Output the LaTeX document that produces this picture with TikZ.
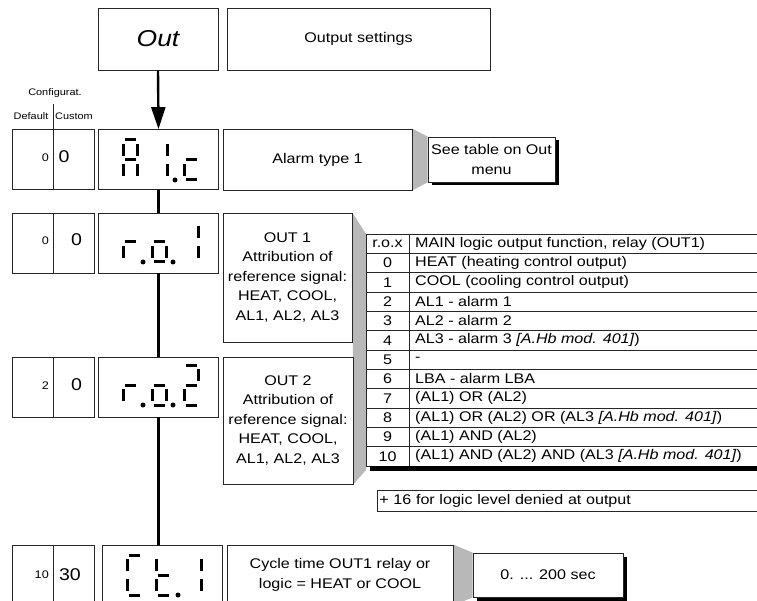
\documentclass[tikz,border=0pt]{standalone}
\usepackage{fontspec}
\setmainfont{Liberation Sans}[FakeStretch=1.15]
\usetikzlibrary{arrows.meta,shadows,backgrounds}

\tikzset{
  box/.style={draw=black!85, line width=0.8pt, fill=white, inner sep=2pt, align=center,
    font=\fontsize{14}{19.5}\selectfont},
  cfgbox/.style={box, minimum width=82pt, minimum height=60pt},
  dispbox/.style={box, minimum width=120pt, minimum height=60pt},
  callout/.style={box, drop shadow={shadow xshift=3.5pt, shadow yshift=-3.5pt, fill=black, opacity=1}},
  wedge/.style={fill=black!28},
  mainline/.style={line width=2.4pt},
  thinline/.style={line width=0.8pt, draw=black!85},
  segline/.style={line width=3pt},
  small/.style={font=\fontsize{9.5}{11}\selectfont, inner sep=1pt},
  dflt/.style={font=\fontsize{11}{13}\selectfont, inner sep=1pt},
  cust/.style={font=\fontsize{17}{20}\selectfont, inner sep=1pt},
  tbl/.style={font=\fontsize{14}{16}\selectfont, inner sep=2pt},
}

% one digit of the display: centre x, centre y, list of segments a-g
\newcommand{\segdigit}[3]{%
  \begin{scope}[shift={(#1,#2)}]
    \coordinate (sa1) at (-5.5,-20); \coordinate (sa2) at (5.5,-20);
    \coordinate (sb1) at (7,-16);    \coordinate (sb2) at (7,-4);
    \coordinate (sc1) at (7,4);      \coordinate (sc2) at (7,16);
    \coordinate (sd1) at (-5.5,20);  \coordinate (sd2) at (5.5,20);
    \coordinate (se1) at (-7,4);     \coordinate (se2) at (-7,16);
    \coordinate (sf1) at (-7,-16);   \coordinate (sf2) at (-7,-4);
    \coordinate (sg1) at (-5.5,0);   \coordinate (sg2) at (5.5,0);
    \foreach \s in {#3} {\draw[segline] (s\s1) -- (s\s2);}
  \end{scope}}

\begin{document}
\begin{tikzpicture}[x=1pt,y=-1pt]
  \useasboundingbox (0,0) rectangle (757,601);

  % menu header
  \node[box, minimum width=120pt, minimum height=62pt, font=\fontsize{23}{26}\selectfont\itshape] (out) at (158,39) {Out};
  \node[box, minimum width=263pt, minimum height=62pt] (outset) at (358.5,39) {Output settings};

  \node[small] (cfg) at (55,93) {Configurat.};
  \node[small] (dft) at (31,116) {Default};
  \node[small] (cst) at (74,116) {Custom};
  \coordinate (sep) at (53,104);

  % rows
  \node[cfgbox] (cfg1) at (53,159.5) {};
  \node[dispbox] (disp1) at (158.5,159.5) {};
  \node[box, minimum width=189pt, minimum height=61pt] (desc1) at (317.5,159.5) {Alarm type 1};
  \node[callout, minimum width=127pt, minimum height=45pt] (see1) at (491.5,159.5) {See table on Out\\menu};

  \node[cfgbox] (cfg2) at (53,243) {};
  \node[dispbox] (disp2) at (158.5,243) {};
  \node[box, minimum width=129pt, minimum height=129pt] (desc2) at (287.5,277.5)
    {OUT 1\\Attribution of\\reference signal:\\HEAT, COOL,\\AL1, AL2, AL3};

  \node[cfgbox] (cfg3) at (53,387) {};
  \node[dispbox] (disp3) at (158.5,387) {};
  \node[box, minimum width=130pt, minimum height=127pt] (desc3) at (288,420.5)
    {OUT 2\\Attribution of\\reference signal:\\HEAT, COOL,\\AL1, AL2, AL3};

  \node[cfgbox] (cfg4) at (53,575) {};
  \node[dispbox] (disp4) at (162,575) {};
  \node[box, minimum width=226pt, minimum height=60pt] (desc4) at (340,575)
    {Cycle time OUT1 relay or\\logic = HEAT or COOL};
  \node[callout, minimum width=150pt, minimum height=44pt] (cyc) at (548,575) {0. ... 200 sec};

  \node[box, anchor=west, text width=380pt, minimum height=21pt, align=left] (plus) at (377,500.5)
    {+ 16 for logic level denied at output};

  % config values
  \draw[thinline] (sep) -- (cfg1.north);
  \foreach \r in {1,2,3,4} {\draw[thinline] (cfg\r.north) -- (cfg\r.south);}
  \node[dflt, anchor=east] (d1) at (50,158) {0};
  \node[cust] (c1) at (64,157) {0};
  \node[dflt, anchor=east] (d2) at (50,241) {0};
  \node[cust] (c2) at (76.5,240) {0};
  \node[dflt, anchor=east] (d3) at (50,386) {2};
  \node[cust] (c3) at (76.5,385) {0};
  \node[dflt, anchor=east] (d4) at (50,575) {10};
  \node[cust] (c4) at (70,575) {30};

  % main flow line
  \draw[mainline, -{Triangle[length=22pt,width=14pt]}] (out.south) -- (disp1.north);
  \draw[mainline] (disp1.south) -- (disp2.north);
  \draw[mainline] (disp2.south) -- (disp3.north);
  \draw[mainline] (disp3.south) -- (disp3.south |- disp4.north);

  % displays
  \segdigit{130}{160}{a,b,c,e,f,g}
  \segdigit{160}{160}{b,c}
  \segdigit{191}{160}{e,g,d}
  \fill (175,180) circle (2.5pt);

  \segdigit{130}{242}{e,g}
  \segdigit{159}{242}{c,d,e,g}
  \segdigit{191}{242}{b,c}
  \fill (143,262) circle (2.5pt);
  \fill (173,262) circle (2.5pt);

  \segdigit{130}{385}{e,g}
  \segdigit{159}{385}{c,d,e,g}
  \segdigit{191}{385}{a,b,g,e,d}
  \fill (143,405) circle (2.5pt);
  \fill (173,405) circle (2.5pt);

  \segdigit{134}{575}{a,f,e,d}
  \segdigit{163}{575}{f,e,g,d}
  \segdigit{194}{575}{b,c}
  \fill (178,595) circle (2.5pt);

  % table of r.o.x values
  \coordinate (tnw) at (366,234);
  \coordinate (tsw) at (366,470);
  \foreach \i/\k/\t in {0/r.o.x/{MAIN logic output function, relay (OUT1)},
      1/0/{HEAT (heating control output)}, 2/1/{COOL (cooling control output)},
      3/2/{AL1 - alarm 1}, 4/3/{AL2 - alarm 2},
      5/4/{AL3 - alarm 3 \textit{[A.Hb mod. 401]})}, 6/5/{-},
      7/6/{LBA - alarm LBA}, 8/7/{(AL1) OR (AL2)},
      9/8/{(AL1) OR (AL2) OR (AL3 \textit{[A.Hb mod. 401]})},
      10/9/{(AL1) AND (AL2)},
      11/10/{(AL1) AND (AL2) AND (AL3 \textit{[A.Hb mod. 401]})}} {
    \node[tbl] (k\i) at (387.5,234+19.33*\i+9.67) {\k};
    \node[tbl, anchor=west] (t\i) at (413,234+19.33*\i+9.67) {\t};
    \draw[thinline] (366,234+19.33*\i) -- (757,234+19.33*\i);
  }
  \draw[thinline] (tnw) -- (366,466);
  \draw[thinline] (409,234) -- (409,466);
  \draw[thinline] (366,466) -- (757,466);
  \fill (370,466) rectangle (757,470.5);

  % grey wedges behind the boxes
  \begin{scope}[on background layer]
    \fill[wedge] (desc1.north east) -- (see1.north west) -- (see1.south west) -- (desc1.south east) -- cycle;
    \fill[wedge] (desc2.north east) -- (tnw) -- (tsw) -- (desc3.south east) -- cycle;
    \fill[wedge] (desc4.north east) -- (cyc.north west) -- (cyc.south west) -- (desc4.south east) -- cycle;
  \end{scope}
\end{tikzpicture}
\end{document}
